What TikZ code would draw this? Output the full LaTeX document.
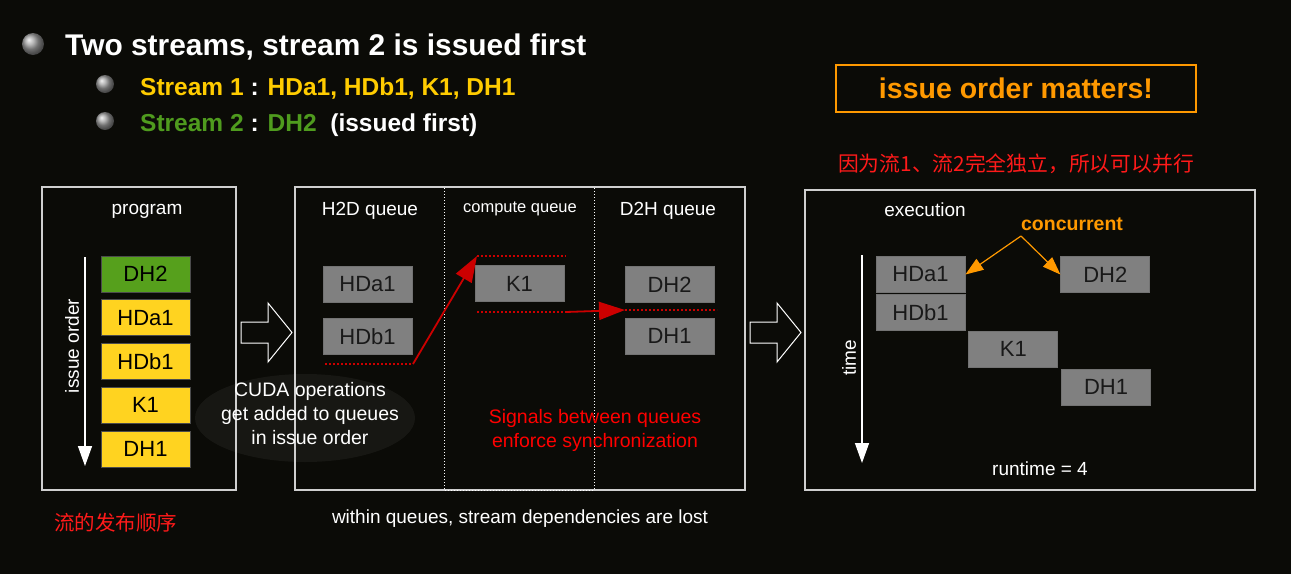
\documentclass[tikz,border=0pt]{standalone}
\usepackage{fontspec}
\setmainfont{Liberation Sans}
\newfontfamily\cjk{Noto Sans CJK SC}
\usetikzlibrary{arrows.meta, positioning}

\definecolor{bgdark}{HTML}{0B0B07}
\definecolor{frameg}{HTML}{CFCFCF}
\definecolor{opyellow}{HTML}{FFD320}
\definecolor{opgreen}{HTML}{56A01C}
\definecolor{txtyellow}{HTML}{FFCC00}
\definecolor{txtgreen}{HTML}{4F9B1E}
\definecolor{qgray}{HTML}{808080}
\definecolor{sigred}{HTML}{CC0000}
\definecolor{hired}{HTML}{FF1A1A}
\definecolor{hiorange}{HTML}{FF9900}

\newcommand{\fsz}[2]{\fontsize{#1}{#2}\selectfont}

\begin{document}
\begin{tikzpicture}[x=1pt, y=-1pt,
    node distance=7pt,
    frame/.style={rectangle, draw=frameg, line width=1.2pt, inner sep=0pt},
    op/.style={rectangle, draw=black!70, line width=0.8pt, minimum width=89pt, minimum height=36pt, inner sep=0pt, font=\fsz{22}{26}, text=black},
    prog/.style={op, fill=opyellow},
    qop/.style={op, fill=qgray, draw=black!55, text=black!90},
    headtxt/.style={text=white, font=\fsz{19}{23}, inner sep=0pt},
    timearrow/.style={draw=white, line width=1.5pt, -{Triangle[width=14pt, length=20pt]}},
    sig/.style={draw=sigred, line width=1.8pt, -{Triangle[width=18pt, length=26pt]}},
    sigdots/.style={draw=sigred, line width=1.8pt, dash pattern=on 1.8pt off 2.2pt},
    concarrow/.style={draw=hiorange, line width=1.2pt, -{Triangle[width=13pt, length=18pt]}},
    blockarrow/.style={draw=white, line width=1pt, line join=miter},
    bullet/.style={ball color=gray!75, draw=none}
  ]
    % background
    \path[use as bounding box, fill=bgdark] (0,0) rectangle (1291,574);
    \fill[white, opacity=0.05] (305,418) ellipse [x radius=110pt, y radius=44pt];

    % bullets
    \shade[bullet] (33,44) circle [radius=11pt];
    \shade[bullet] (105,84) circle [radius=9pt];
    \shade[bullet] (105,121) circle [radius=9pt];
    \node[anchor=base west, inner sep=0pt, text=white, font=\bfseries\fsz{29.9}{34}] (title) at (65,55) {Two streams, stream 2 is issued first};
    \node[anchor=base west, inner sep=0pt, text=white, font=\bfseries\fsz{24.5}{28}] (s1) at (140,95)
      {{\color{txtyellow}Stream 1} : {\color{txtyellow}HDa1, HDb1, K1, DH1}};
    \node[anchor=base west, inner sep=0pt, text=white, font=\bfseries\fsz{24.5}{28}] (s2) at (140,131)
      {{\color{txtgreen}Stream 2} : {\color{txtgreen}DH2}\ \ (issued first)};

    % notes on the right
    \node[draw=hiorange, line width=1.2pt, minimum width=360pt, minimum height=47pt, text=hiorange, font=\bfseries\fsz{28.5}{32}] (matters) at (1016,88.5) {issue order matters!};
    \node[text=hired, font=\cjk\fsz{20.8}{24}, inner sep=0pt] (indep) at (1016,164) {因为流1、流2完全独立，所以可以并行};

    % program
    \node[frame, minimum width=194pt, minimum height=303pt] (progbox) at (139,338.5) {};
    \node[headtxt] (progtxt) at (147,211) {program};
    \node[op, fill=opgreen] (pdh2) at (145.5,274) {DH2};
    \node[prog, below=of pdh2] (phda1) {HDa1};
    \node[prog, below=of phda1] (phdb1) {HDb1};
    \node[prog, below=of phdb1] (pk1) {K1};
    \node[prog, below=of pk1] (pdh1) {DH1};
    \coordinate (ordtop) at (85,257);
    \coordinate (ordend) at (85,466);
    \draw[timearrow] (ordtop) -- (ordend);
    \node[headtxt, rotate=90] (ordtxt) at (72,346) {issue order};
    \node[text=hired, font=\cjk\fsz{20.5}{24}, inner sep=0pt, anchor=west] (ordcn) at (54,523) {流的发布顺序};

    % hollow arrows
    \foreach \dx in {0,509}
      \draw[blockarrow, xshift=\dx pt] (241,322) -- (268,322) -- (268,303) -- (292,332.5)
        -- (268,362) -- (268,343) -- (241,343) -- cycle;

    % queues
    \node[frame, minimum width=450pt, minimum height=303pt] (queuebox) at (520,338.5) {};
    \draw[white, line width=1pt, dotted] (444,188) -- (444,490) -- (594,490) -- (594,188);
    \node[headtxt] (h2dtxt) at (370,211) {H2D queue};
    \node[headtxt, font=\fsz{16.5}{20}] (comptxt) at (520,209) {compute queue};
    \node[headtxt] (d2htxt) at (668,211) {D2H queue};
    \node[qop] (qhda1) at (367.5,284) {HDa1};
    \node[qop, below=16pt of qhda1] (qhdb1) {HDb1};
    \node[qop] (qk1) at (519.5,283.5) {K1};
    \node[qop] (qdh2) at (669.5,284.5) {DH2};
    \node[qop, below=15pt of qdh2] (qdh1) {DH1};

    % signals
    \coordinate (w1s) at (325,364);
    \coordinate (w1e) at (413,364);
    \coordinate (w2s) at (477,256);
    \coordinate (w2e) at (566,256);
    \coordinate (w3s) at (477,312);
    \coordinate (w3e) at (566,312);
    \coordinate (w4s) at (625,310);
    \coordinate (w4e) at (717,310);
    \draw[sigdots] (w1s) -- (w1e);
    \draw[sigdots] (w2s) -- (w2e);
    \draw[sigdots] (w3s) -- (w3e);
    \draw[sigdots] (w4s) -- (w4e);
    \draw[sig] (w1e) -- (w2s);
    \draw[sig] (w3e) -- (w4s);

    \node[headtxt, align=center, font=\fsz{19.5}{24}] (cudatxt) at (310,414) {CUDA operations\\get added to queues\\in issue order};
    \node[headtxt, align=center, text=red, font=\fsz{19.5}{24}] (sigtxt) at (595,430) {Signals between queues\\enforce synchronization};
    \node[headtxt] (losttxt) at (520,519) {within queues, stream dependencies are lost};

    % execution
    \node[frame, minimum width=450pt, minimum height=300pt] (execbox) at (1030,340) {};
    \node[headtxt] (exectxt) at (925,210) {execution};
    \node[qop] (xhda1) at (920.5,274.5) {HDa1};
    \node[qop, below=1pt of xhda1] (xhdb1) {HDb1};
    \node[qop, below right=0pt and 3pt of xhdb1] (xk1) {K1};
    \node[qop, below right=1pt and 3pt of xk1] (xdh1) {DH1};
    \node[qop, right=95pt of xhda1] (xdh2) {DH2};
    \coordinate (timetop) at (862,255);
    \coordinate (timeend) at (862,463);
    \draw[timearrow] (timetop) -- (timeend);
    \node[headtxt, rotate=90] (timetxt) at (849,358) {time};
    \node[text=hiorange, font=\bfseries\fsz{19.5}{23}, inner sep=0pt] (conc) at (1072,224) {concurrent};
    \coordinate (concroot) at (1021,236);
    \draw[concarrow] (concroot) -- (xhda1.east);
    \draw[concarrow] (concroot) -- (xdh2.west);
    \node[headtxt] (runtxt) at (1040,469) {runtime = 4};
  \end{tikzpicture}
\end{document}
